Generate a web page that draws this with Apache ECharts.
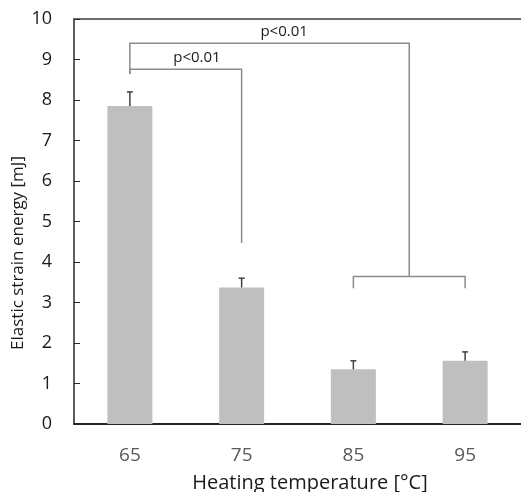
<!DOCTYPE html>
<html>
<head>
<meta charset="utf-8">
<script src="https://cdn.jsdelivr.net/npm/echarts@6/dist/echarts.min.js"></script>
<style>
  html, body { margin: 0; padding: 0; background: #fff; }
  #chart { width: 521px; height: 492px; }
</style>
</head>
<body>
<div id="chart"></div>
<script>
var categories = ['65', '75', '85', '95'];
var means = [7.85, 3.37, 1.35, 1.56];
var errors = [0.35, 0.23, 0.21, 0.22];

// significance brackets: [xStart, xEnd, yTop, leftLegBottom, rightLegBottom]
var brackets = [
    [0, 1, 8.76, 8.64, 4.47],
    [0, 2.5, 9.40, 8.64, 3.64],
    [2, 3, 3.64, 3.35, 3.35]
];
// bracket labels: [x, y, text]
var pLabels = [
    [0.6, 9.05, 'p<0.01'],
    [1.38, 9.69, 'p<0.01']
];

var FONT = 'Open Sans';
var chart = echarts.init(document.getElementById('chart'));

function catX(api, x, y) {
    var p0 = api.coord([0, y]);
    var band = api.size([1, 0])[0];
    return [p0[0] + x * band, p0[1]];
}

var option = {
    animation: false,
    textStyle: { fontFamily: FONT },
    grid: { left: 74, right: 0, top: 19, bottom: 68 },
    graphic: [
        {
            type: 'text',
            rotation: Math.PI / 2,
            x: 10, y: 253,
            style: { text: 'Elastic strain energy [mJ]', fontSize: 17, fontFamily: FONT, fill: '#1a1a1a', align: 'center', verticalAlign: 'top' }
        },
        {
            type: 'text', x: 310, y: 483,
            style: { text: 'Heating temperature [\u00b0C]', fontSize: 20, fontFamily: FONT, fill: '#1a1a1a', align: 'center', verticalAlign: 'middle' }
        }
    ],
    xAxis: [{
        type: 'category',
        data: categories,
        axisLine: { lineStyle: { color: '#262626', width: 2 } },
        axisTick: { show: false },
        axisLabel: { color: '#595959', fontSize: 19, margin: 22 }
    }, {
        type: 'category',
        position: 'top',
        data: categories,
        axisLine: { show: true, onZero: false, lineStyle: { color: '#6e6e6e', width: 2 } },
        axisTick: { show: false },
        axisLabel: { show: false }
    }],
    yAxis: {
        type: 'value',
        min: 0, max: 10, interval: 1,
        axisLine: { show: true, lineStyle: { color: '#262626', width: 1.5 } },
        axisTick: { show: true, inside: true, length: 6, lineStyle: { color: '#262626' } },
        axisLabel: { color: '#1a1a1a', fontSize: 18, margin: 22 },
        splitLine: { show: false }
    },
    series: [
        {
            type: 'bar',
            data: means,
            barWidth: 45,
            itemStyle: { color: '#bfbfbf' }
        },
        {
            type: 'custom',
            data: means.map(function (m, i) { return [i, m, m + errors[i]]; }),
            z: 3,
            renderItem: function (params, api) {
                var lo = api.coord([api.value(0), api.value(1)]);
                var hi = api.coord([api.value(0), api.value(2)]);
                var style = { stroke: '#404040', lineWidth: 1.5 };
                return {
                    type: 'group',
                    children: [
                        { type: 'line', shape: { x1: lo[0], y1: lo[1], x2: hi[0], y2: hi[1] }, style: style },
                        { type: 'line', shape: { x1: hi[0] - 3, y1: hi[1], x2: hi[0] + 3, y2: hi[1] }, style: style }
                    ]
                };
            }
        },
        {
            type: 'custom',
            data: brackets,
            z: 4,
            renderItem: function (params, api) {
                var a = catX(api, api.value(0), api.value(2));
                var b = catX(api, api.value(1), api.value(2));
                var la = catX(api, api.value(0), api.value(3));
                var lb = catX(api, api.value(1), api.value(4));
                return {
                    type: 'polyline',
                    shape: { points: [[la[0], la[1]], [a[0], a[1]], [b[0], b[1]], [lb[0], lb[1]]] },
                    style: { stroke: '#8c8c8c', lineWidth: 1.5, fill: null }
                };
            }
        },
        {
            type: 'custom',
            data: pLabels,
            z: 5,
            renderItem: function (params, api) {
                var p = catX(api, api.value(0), api.value(1));
                return {
                    type: 'text',
                    x: p[0], y: p[1],
                    style: {
                        text: pLabels[params.dataIndex][2],
                        fontSize: 15, fontFamily: FONT, fill: '#1a1a1a',
                        align: 'center', verticalAlign: 'middle'
                    }
                };
            }
        }
    ]
};

chart.setOption(option);
</script>
</body>
</html>
